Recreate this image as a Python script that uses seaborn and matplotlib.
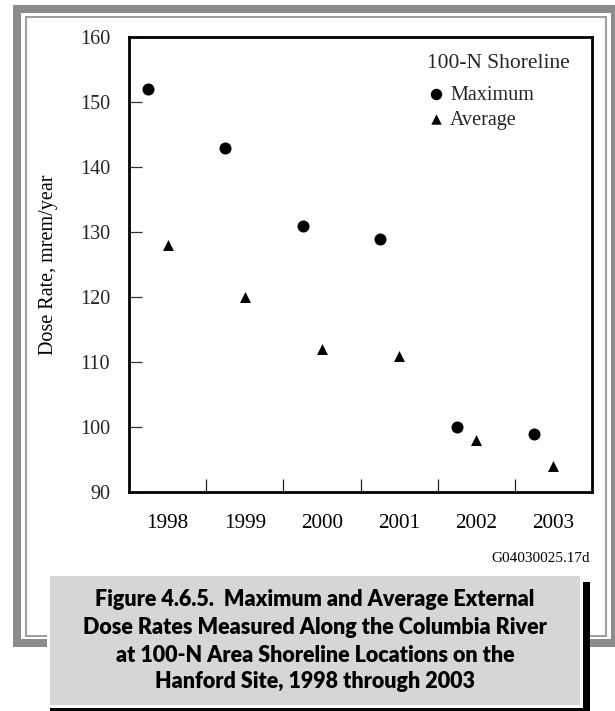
import numpy as np
import pandas as pd
import matplotlib
matplotlib.use("Agg")
import matplotlib.pyplot as plt
from matplotlib.patches import Rectangle
import seaborn as sns

# ---- data ----
years = [1998, 1999, 2000, 2001, 2002, 2003]
maximum = [152, 143, 131, 129, 100, 99]
average = [128, 120, 112, 111, 98, 94]
series_names = ["Maximum", "Average"]
y_ticks = [90, 100, 110, 120, 130, 140, 150, 160]
legend_title = "100-N Shoreline"
y_label = "Dose Rate, mrem/year"
figure_id = "G04030025.17d"
caption_lines = [
    "Figure 4.6.5.  Maximum and Average External",
    "Dose Rates Measured Along the Columbia River",
    "at 100-N Area Shoreline Locations on the",
    "Hanford Site, 1998 through 2003",
]

sns.set_style("white")
plt.rcParams["font.family"] = ["Liberation Serif", "DejaVu Serif"]

W, H = 615, 711
fig = plt.figure(figsize=(W / 100, H / 100), dpi=100)
fig.patch.set_facecolor("white")


def fx(x):
    return x / W


def fy(y):
    return 1 - y / H


ax_l, ax_r, ax_t, ax_b = 129, 592, 37, 492
ax = fig.add_axes([fx(ax_l), fy(ax_b), (ax_r - ax_l) / W, (ax_b - ax_t) / H])

df = pd.DataFrame({
    "year": years * 2,
    "series": [series_names[0]] * len(years) + [series_names[1]] * len(years),
    "dose": maximum + average,
})
offsets = {"Maximum": -0.25, "Average": 0.0}
df["xpos"] = df["year"] + df["series"].map(offsets)

markers = {"Maximum": "o", "Average": "^"}
sizes = {"Maximum": 75, "Average": 62}
for name in series_names:
    sub = df[df["series"] == name]
    sns.scatterplot(data=sub, x="xpos", y="dose", marker=markers[name],
                    s=sizes[name], color="black", linewidth=0, ax=ax,
                    label=name, legend=False, zorder=3)

ax.set_xlim(years[0] - 0.5, years[-1] + 0.5)
ax.set_ylim(y_ticks[0], y_ticks[-1])
ax.set_xticks([y + 0.5 for y in years[:-1]])
ax.set_xticklabels([])
ax.set_xticks(years, minor=True)
ax.set_xticklabels([str(y) for y in years], minor=True)
ax.tick_params(axis="x", which="major", direction="in", length=9.4, width=0.9,
               color="#222222", labelbottom=False, bottom=True)
ax.tick_params(axis="x", which="minor", length=0, pad=15.5, labelsize=15.3,
               labelcolor="black", bottom=True)
ax.set_yticks(y_ticks)
ax.set_yticklabels([str(v) for v in y_ticks])
ax.tick_params(axis="y", which="major", direction="in", length=9.4, width=0.9,
               color="#333333", pad=13.7, labelsize=14.5, left=True)
for sp in ax.spines.values():
    sp.set_visible(True)
    sp.set_linewidth(2.0)
    sp.set_color("black")
ax.set_xlabel("")
ax.set_ylabel(y_label, fontsize=14.5, labelpad=16, color="black")

leg = ax.legend(title=legend_title, loc="upper left",
                bbox_to_anchor=((427 - ax_l) / (ax_r - ax_l), 1 - (54.5 - ax_t) / (ax_b - ax_t)),
                frameon=False, borderpad=0, borderaxespad=0, handlelength=0.85,
                handletextpad=0.3, labelspacing=0.3, fontsize=14.5,
                title_fontsize=15.5, alignment="left", markerscale=0.95)
try:
    leg._legend_box.sep = 8.6
except Exception:
    pass

# ---- frame ----
def rect(x0, y0, x1, y1, **kw):
    r = Rectangle((fx(x0), fy(y1)), (x1 - x0) / W, (y1 - y0) / H,
                  transform=fig.transFigure, **kw)
    fig.add_artist(r)
    return r

rect(17, 9, 615, 643, fill=False, lw=8 * 0.72, edgecolor="#8c8c8c", zorder=1)
rect(25.5, 17, 606, 635.5, fill=False, lw=2 * 0.72, edgecolor="#9e9e9e", zorder=1)
rect(50, 582, 590, 714, facecolor="black", edgecolor="none", zorder=2)
rect(47, 573, 583, 708, facecolor="white", edgecolor="none", zorder=3)
rect(50, 576, 580, 705, facecolor="#d6d6d6", edgecolor="none", zorder=4)

fig.text(fx(590), fy(558), figure_id, ha="right", va="center", fontsize=11,
         color="black", zorder=5)

cap_y = [600, 628, 655, 682]
for line, yy in zip(caption_lines, cap_y):
    fig.text(fx(315), fy(yy), line, ha="center", va="center", fontsize=15.5,
             family=["Lato", "DejaVu Sans"], fontweight="heavy", color="black",
             zorder=6)

fig.savefig("out.png", dpi=100)
